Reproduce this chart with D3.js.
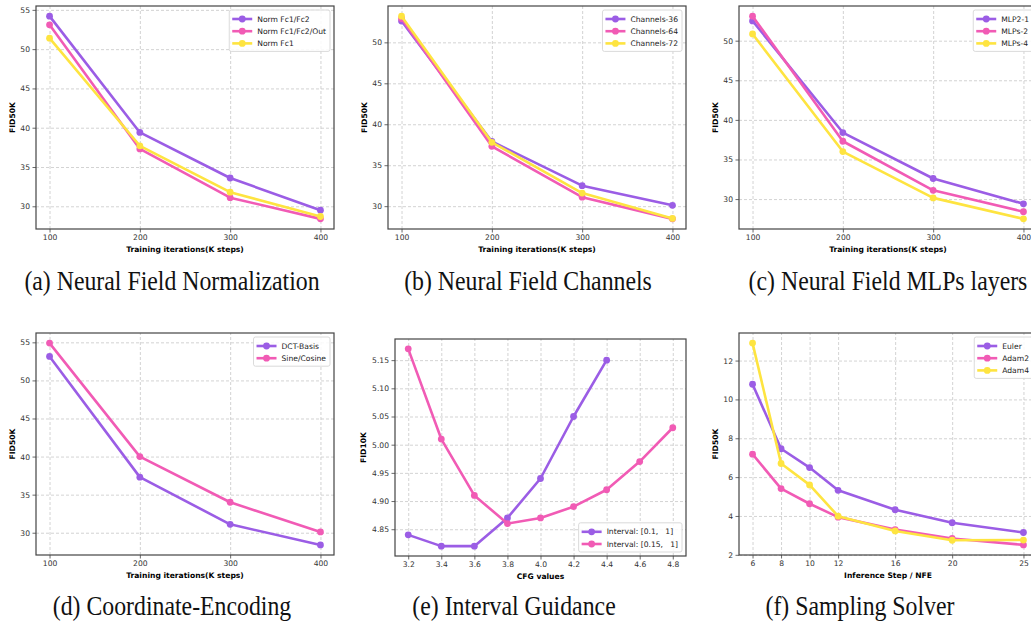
<!DOCTYPE html>
<html>
<head>
<meta charset="utf-8">
<script src="https://cdn.jsdelivr.net/npm/d3@7"></script>
<style>
  body { margin: 0; background: #fff; }
  svg { display: block; font-family: "DejaVu Sans", sans-serif; }
</style>
</head>
<body>
<div id="chart"></div>
<script>
// ---- data ----
var steps = [100, 200, 300, 400];

var normLabels = ["Norm Fc1/Fc2", "Norm Fc1/Fc2/Out", "Norm Fc1"];
var normFc1Fc2 = [54.2, 39.4, 33.6, 29.5];
var normFc1Fc2Out = [53.1, 37.3, 31.1, 28.4];
var normFc1 = [51.4, 37.7, 31.8, 28.7];

var channelLabels = ["Channels-36", "Channels-64", "Channels-72"];
var channels36 = [52.6, 37.9, 32.5, 30.1];
var channels64 = [52.9, 37.3, 31.1, 28.45];
var channels72 = [53.2, 37.8, 31.6, 28.5];

var mlpLabels = ["MLP2-1", "MLPs-2", "MLPs-4"];
var mlp21 = [52.5, 38.4, 32.6, 29.4];
var mlps2 = [53.1, 37.3, 31.1, 28.4];
var mlps4 = [50.85, 36.0, 30.15, 27.5];

var encLabels = ["DCT-Basis", "Sine/Cosine"];
var dctBasis = [53.15, 37.3, 31.1, 28.4];
var sineCosine = [54.9, 40.0, 34.0, 30.1];

var cfgLabels = ["Interval: [0.1,   1]", "Interval: [0.15,   1]"];
var cfgA = [3.2, 3.4, 3.6, 3.8, 4.0, 4.2, 4.4];
var cfgB = [3.2, 3.4, 3.6, 3.8, 4.0, 4.2, 4.4, 4.6, 4.8];
var interval01 = [4.84, 4.82, 4.82, 4.87, 4.94, 5.05, 5.15];
var interval015 = [5.17, 5.01, 4.91, 4.86, 4.87, 4.89, 4.92, 4.97, 5.03];

var solverLabels = ["Euler", "Adam2", "Adam4"];
var nfe = [6, 8, 10, 12, 16, 20, 25];
var euler = [10.78, 7.46, 6.49, 5.32, 4.32, 3.65, 3.15];
var adam2 = [7.18, 5.41, 4.63, 3.94, 3.3, 2.84, 2.51];
var adam4 = [12.9, 6.7, 5.6, 3.99, 3.23, 2.75, 2.76];

var ticks30to55 = [30, 35, 40, 45, 50, 55];
var ticksCfgX = [3.2, 3.4, 3.6, 3.8, 4.0, 4.2, 4.4, 4.6, 4.8];
var ticksCfgY = [4.85, 4.90, 4.95, 5.00, 5.05, 5.10, 5.15];
var ticksSolverY = [2, 4, 6, 8, 10, 12];

var captions = ["(a) Neural Field Normalization", "(b) Neural Field Channels", "(c) Neural Field MLPs layers",
                "(d) Coordinate-Encoding", "(e) Interval Guidance", "(f) Sampling Solver"];

var colors = ["#9b5de5", "#f15bb5", "#fee440"];

var svg = d3.select("#chart").append("svg")
    .attr("width", 1031)
    .attr("height", 622);

var iterLabel = "Training iterations(K steps)";

var panels = [
  { box: [36, 6, 334, 229], xLabel: iterLabel, yLabel: "FID50K", xTicks: steps, yTicks: ticks30to55,
    series: [[steps, normFc1Fc2], [steps, normFc1Fc2Out], [steps, normFc1]], labels: normLabels, legend: "ur",
    caption: captions[0], cx: 172, cy: 290, yLabelOff: 24 },
  { box: [388, 6, 686, 229], xLabel: iterLabel, yLabel: "FID50K", xTicks: steps, yTicks: ticks30to55,
    series: [[steps, channels36], [steps, channels64], [steps, channels72]], labels: channelLabels, legend: "ur",
    caption: captions[1], cx: 528, cy: 290, yLabelOff: 24 },
  { box: [739, 6, 1037, 229], xLabel: iterLabel, yLabel: "FID50K", xTicks: steps, yTicks: ticks30to55,
    series: [[steps, mlp21], [steps, mlps2], [steps, mlps4]], labels: mlpLabels, legend: "ur",
    caption: captions[2], cx: 888, cy: 290, yLabelOff: 24 },
  { box: [36, 333, 334, 555], xLabel: iterLabel, yLabel: "FID50K", xTicks: steps, yTicks: ticks30to55,
    series: [[steps, dctBasis], [steps, sineCosine]], labels: encLabels, legend: "ur",
    caption: captions[3], cx: 172, cy: 615, yLabelOff: 24 },
  { box: [395, 339, 686, 556], xLabel: "CFG values", yLabel: "FID10K", xTicks: ticksCfgX, yTicks: ticksCfgY,
    xFmt: d3.format(".1f"), yFmt: d3.format(".2f"),
    series: [[cfgA, interval01], [cfgB, interval015]], labels: cfgLabels, legend: "lr",
    caption: captions[4], cx: 514, cy: 615, yLabelOff: 32 },
  { box: [739, 333, 1037, 555], xLabel: "Inference Step / NFE", yLabel: "FID50K", xTicks: nfe, yTicks: ticksSolverY,
    series: [[nfe, euler], [nfe, adam2], [nfe, adam4]], labels: solverLabels, legend: "ur",
    caption: captions[5], cx: 860, cy: 615, yLabelOff: 24 }
];

// matplotlib style 5% margins
function padded(vals) {
  var e = d3.extent(vals);
  var m = (e[1] - e[0]) * 0.05;
  return [e[0] - m, e[1] + m];
}

panels.forEach(function(p) {
  var x0 = p.box[0], y0 = p.box[1], x1 = p.box[2], y1 = p.box[3];
  var allX = [], allY = [];
  p.series.forEach(function(s) { allX = allX.concat(s[0]); allY = allY.concat(s[1]); });

  var x = d3.scaleLinear().domain(padded(allX)).range([x0, x1]);
  var y = d3.scaleLinear().domain(padded(allY)).range([y1, y0]);
  var yt = p.yTicks.filter(function(t) { return t >= y.domain()[0] && t <= y.domain()[1]; });

  var g = svg.append("g");

  // grid
  g.append("g")
    .attr("transform", `translate(0, ${y1})`)
    .call(d3.axisBottom(x).tickValues(p.xTicks).tickSize(-(y1 - y0)).tickFormat(""))
    .call(function(a) { a.select(".domain").remove(); })
    .selectAll("line").attr("stroke", "#c8c8c8").attr("stroke-width", 0.8).attr("stroke-dasharray", "3,2");
  g.append("g")
    .attr("transform", `translate(${x0}, 0)`)
    .call(d3.axisLeft(y).tickValues(yt).tickSize(-(x1 - x0)).tickFormat(""))
    .call(function(a) { a.select(".domain").remove(); })
    .selectAll("line").attr("stroke", "#c8c8c8").attr("stroke-width", 0.8).attr("stroke-dasharray", "3,2");

  // axes
  var xa = g.append("g")
    .attr("transform", `translate(0, ${y1})`)
    .call(d3.axisBottom(x).tickValues(p.xTicks).tickSize(3.5).tickPadding(2.5).tickFormat(p.xFmt || d3.format("d")));
  var ya = g.append("g")
    .attr("transform", `translate(${x0}, 0)`)
    .call(d3.axisLeft(y).tickValues(yt).tickSize(3.5).tickPadding(2.5).tickFormat(p.yFmt || d3.format("d")));
  [xa, ya].forEach(function(a) {
    a.select(".domain").remove();
    a.selectAll("line").attr("stroke", "#444").attr("stroke-width", 0.8);
    a.selectAll("text").attr("fill", "#333").style("font-size", "7.6px").style("font-family", "DejaVu Sans");
  });

  // frame
  g.append("rect")
    .attr("x", x0).attr("y", y0).attr("width", x1 - x0).attr("height", y1 - y0)
    .attr("fill", "none").attr("stroke", "#444").attr("stroke-width", 1.2);

  // axis titles
  g.append("text")
    .attr("x", (x0 + x1) / 2).attr("y", y1 + 23)
    .attr("text-anchor", "middle")
    .style("font-size", "7.6px").style("font-weight", "bold")
    .text(p.xLabel);
  g.append("text")
    .attr("transform", `translate(${x0 - p.yLabelOff + 3}, ${(y0 + y1) / 2}) rotate(-90)`)
    .attr("text-anchor", "middle")
    .style("font-size", "7.6px").style("font-weight", "bold")
    .text(p.yLabel);

  // series
  var line = d3.line().x(function(d) { return x(d[0]); }).y(function(d) { return y(d[1]); });
  p.series.forEach(function(s, i) {
    var pts = d3.zip(s[0], s[1]);
    g.append("path").datum(pts)
      .attr("d", line)
      .attr("fill", "none")
      .attr("stroke", colors[i])
      .attr("stroke-width", 2.6)
      .attr("stroke-linejoin", "round");
    g.selectAll(null).data(pts).enter().append("circle")
      .attr("cx", function(d) { return x(d[0]); })
      .attr("cy", function(d) { return y(d[1]); })
      .attr("r", 3.4)
      .attr("fill", colors[i]);
  });

  // legend
  var rowH = 12.2;
  var lg = g.append("g");
  var box = lg.append("rect")
    .attr("rx", 2).attr("fill", "#fff").attr("fill-opacity", 0.85)
    .attr("stroke", "#d0d0d0").attr("stroke-width", 0.8);
  var maxW = 0;
  p.labels.forEach(function(lab, i) {
    var t = lg.append("text")
      .attr("x", 28).attr("y", 9 + i * rowH)
      .attr("dy", "0.35em")
      .style("font-size", "7.6px")
      .style("white-space", "pre")
      .attr("fill", "#222")
      .text(lab);
    maxW = Math.max(maxW, t.node().getComputedTextLength());
    lg.append("line")
      .attr("x1", 3).attr("x2", 23).attr("y1", 9 + i * rowH).attr("y2", 9 + i * rowH)
      .attr("stroke", colors[i]).attr("stroke-width", 2.6);
    lg.append("circle")
      .attr("cx", 13).attr("cy", 9 + i * rowH).attr("r", 3.4).attr("fill", colors[i]);
  });
  var bw = 28 + maxW + 4;
  var bh = 9 + (p.labels.length - 1) * rowH + 8;
  box.attr("width", bw).attr("height", bh);
  var lx = x1 - 4 - bw;
  var ly = p.legend === "ur" ? y0 + 4 : y1 - 4 - bh;
  lg.attr("transform", `translate(${lx}, ${ly})`);

  // caption
  svg.append("text")
    .attr("transform", `translate(${p.cx}, ${p.cy}) scale(0.85, 1)`)
    .attr("text-anchor", "middle")
    .style("font-family", "'Liberation Serif', 'Times New Roman', serif")
    .style("font-size", "28px")
    .attr("fill", "#111")
    .text(p.caption);
});
</script>
</body>
</html>
